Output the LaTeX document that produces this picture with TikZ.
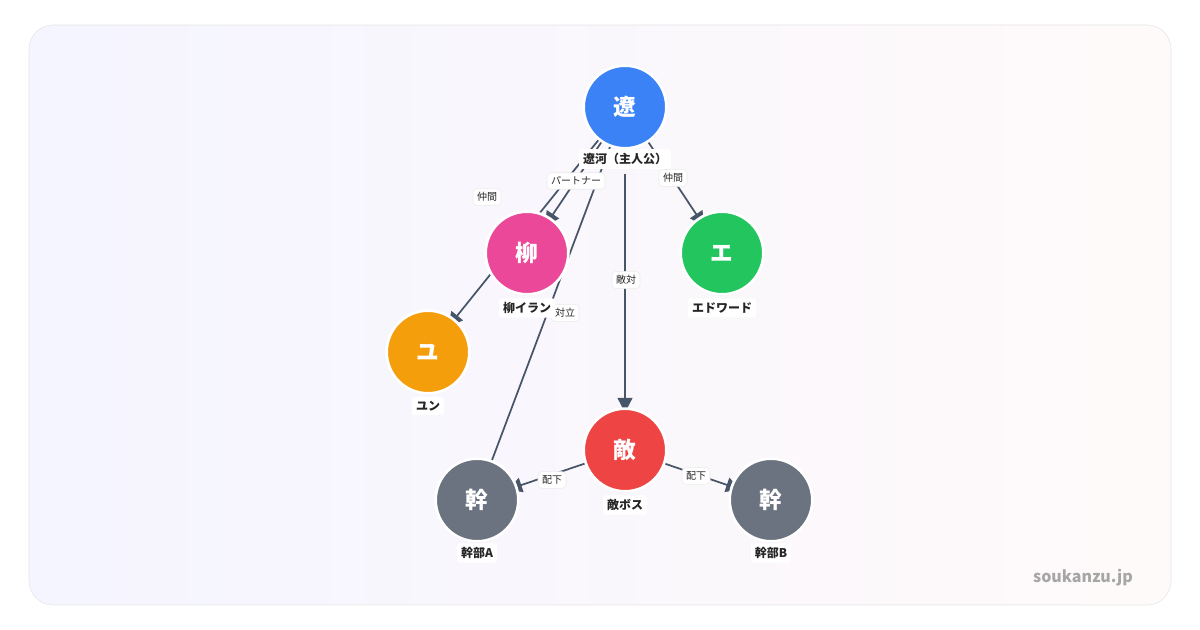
\documentclass[tikz,border=0pt]{standalone}
\usepackage{fontspec}
\setmainfont{Noto Sans CJK JP}
\usetikzlibrary{arrows.meta,shadows}
\definecolor{edgec}{HTML}{475569}
\definecolor{cblue}{HTML}{3B82F6}
\definecolor{cpink}{HTML}{EC4899}
\definecolor{cgreen}{HTML}{22C55E}
\definecolor{camber}{HTML}{F59E0B}
\definecolor{cred}{HTML}{EF4444}
\definecolor{cgray}{HTML}{6B7280}
\tikzset{
  chara/.style={circle,draw=white,line width=2pt,minimum size=62pt,inner sep=0pt,
    text=white,font=\bfseries\fontsize{17}{17}\selectfont,
    drop shadow={shadow xshift=0pt,shadow yshift=-1pt,opacity=.18}},
  caption/.style={fill=white,rounded corners=2pt,inner sep=3pt,font=\bfseries\fontsize{9}{9}\selectfont,text=black!85},
  rel/.style={fill=white,draw=black!8,rounded corners=3pt,inner sep=3pt,font=\fontsize{7.5}{7.5}\selectfont,text=black!85},
  link/.style={draw=edgec,line width=1.3pt,-{Triangle[length=11pt,width=11pt]}},
  plain/.style={draw=edgec,line width=1.3pt}
}
\begin{document}
\begin{tikzpicture}[x=0.75pt,y=-0.75pt]
\useasboundingbox (0,0) rectangle (1200,630);
\shade[left color=blue!4,right color=red!2,rounded corners=18pt,draw=black!10] (29,25) rectangle (1171,605);
% positions
\coordinate (ryo) at (625,107);
\coordinate (yan) at (527,253);
\coordinate (edo) at (722,253);
\coordinate (yun) at (428,352);
\coordinate (boss) at (625,450);
\coordinate (kA) at (477,500);
\coordinate (kB) at (771,500);
% connectors
\draw[link,shorten >=24pt] (ryo) -- (yun);
\draw[plain,shorten <=25pt,shorten >=25pt] (kA) -- (ryo);
\draw[link,shorten <=23pt,shorten >=24pt] (ryo) -- (yan);
\draw[link,shorten <=23pt,shorten >=24pt] (ryo) -- (edo);
\draw[link,shorten <=50pt,shorten >=28pt] (ryo) -- (boss);
\draw[link,shorten <=25pt,shorten >=24pt] (boss) -- (kA);
\draw[link,shorten <=25pt,shorten >=24pt] (boss) -- (kB);
% relation labels
\node[rel] (r1) at (576,181) {パートナー};
\node[rel] (r2) at (487,197) {仲間};
\node[rel] (r3) at (673,178) {仲間};
\node[rel] (r4) at (626,280) {敵対};
\node[rel] (r5) at (565,313) {対立};
\node[rel] (r6) at (552,480) {配下};
\node[rel] (r7) at (696,476) {配下};
% characters
\node[chara,fill=cblue] (nryo) at (ryo) {遼};
\node[chara,fill=cpink] (nyan) at (yan) {柳};
\node[chara,fill=cgreen] (nedo) at (edo) {エ};
\node[chara,fill=camber] (nyun) at (yun) {ユ};
\node[chara,fill=cred] (nboss) at (boss) {敵};
\node[chara,fill=cgray] (nkA) at (kA) {幹};
\node[chara,fill=cgray] (nkB) at (kB) {幹};
\node[caption] at (625,159) {遼河（主人公）};
\node[caption] at (527,308) {柳イラン};
\node[caption] at (722,308) {エドワード};
\node[caption] at (428,406) {ユン};
\node[caption] at (625,505) {敵ボス};
\node[caption] at (477,553) {幹部A};
\node[caption] at (771,553) {幹部B};
\node[font=\bfseries\fontsize{12}{12}\selectfont,text=black!35] at (1083,578) {soukanzu.jp};
\end{tikzpicture}
\end{document}
